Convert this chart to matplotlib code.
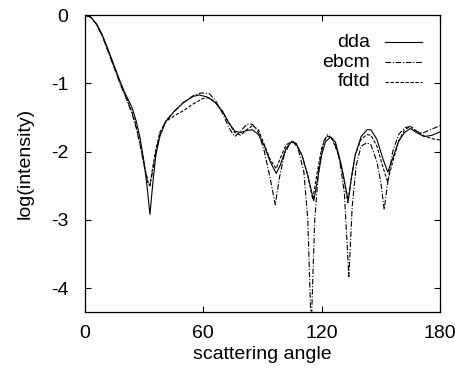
import numpy as np
import matplotlib
matplotlib.use("Agg")
import matplotlib.pyplot as plt
from matplotlib.lines import Line2D

plt.rcParams['font.family'] = ['Liberation Sans', 'DejaVu Sans']
plt.rcParams['axes.unicode_minus'] = False

# scattering angle (deg) and log(intensity)
ang_dda = [0, 3, 6, 9, 12, 15, 18, 20, 22, 24, 26, 28, 30, 31.5, 33, 34.5, 36, 38, 41, 45,
           50, 55, 58, 62, 66, 70, 73, 76, 79, 82, 85, 88, 91, 94, 97, 99, 102, 105, 107, 110,
           113, 116, 118, 120, 122, 124.5, 127, 130, 132, 133.5, 135, 137, 140, 143, 145, 148,
           151, 153.5, 156, 159, 162, 165, 168, 172, 176, 180]
dda = [0, -0.03, -0.13, -0.30, -0.52, -0.75, -0.98, -1.12, -1.24, -1.36, -1.55, -1.80, -2.15,
       -2.5, -2.92, -2.45, -2.05, -1.78, -1.56, -1.42, -1.28, -1.19, -1.17, -1.20, -1.28, -1.42,
       -1.58, -1.70, -1.72, -1.69, -1.68, -1.75, -1.92, -2.15, -2.32, -2.20, -1.95, -1.85, -1.88,
       -2.05, -2.35, -2.72, -2.40, -2.05, -1.85, -1.79, -1.86, -2.20, -2.50, -2.72, -2.40, -2.05,
       -1.78, -1.68, -1.68, -1.82, -2.10, -2.30, -2.10, -1.85, -1.72, -1.66, -1.72, -1.78, -1.76,
       -1.71]

ang_ebcm = [0, 3, 6, 9, 12, 15, 18, 20, 22, 24, 26, 28, 30, 32, 33, 34, 36, 38, 41, 45, 50,
            55, 59, 63, 66, 70, 73, 76, 79, 82, 85, 88, 91, 94, 96.5, 98.5, 101, 104, 106, 108,
            111, 113, 114.7, 116.5, 118.5, 121, 123, 126, 129, 131.5, 133.8, 135.5, 137.5, 140,
            143, 145, 148, 150, 151.7, 153.5, 156, 159, 162, 165, 168, 171, 175, 180]
ebcm = [0, -0.03, -0.14, -0.32, -0.55, -0.78, -1.02, -1.15, -1.30, -1.45, -1.65, -1.90, -2.20,
        -2.45, -2.50, -2.35, -2.00, -1.75, -1.55, -1.42, -1.28, -1.18, -1.14, -1.15, -1.24,
        -1.45, -1.65, -1.78, -1.70, -1.60, -1.60, -1.72, -2.00, -2.40, -2.78, -2.40, -2.05,
        -1.87, -1.87, -1.95, -2.30, -3.00, -4.60, -3.00, -2.25, -1.85, -1.75, -1.82, -2.10,
        -2.60, -3.83, -2.80, -2.20, -1.92, -1.87, -1.90, -2.15, -2.45, -2.85, -2.45, -2.00,
        -1.75, -1.65, -1.63, -1.70, -1.73, -1.68, -1.62]

ang_fdtd = [0, 3, 6, 9, 12, 15, 18, 20, 22, 24, 26, 28, 30, 32, 33, 34, 36, 38, 41, 45, 50,
            55, 60, 63, 66, 70, 73, 76, 79, 82, 85, 88, 91, 94, 97, 99, 102, 105, 107, 110,
            113, 115.5, 117.5, 120, 122.5, 125, 128, 131, 133.3, 135, 137, 140, 143, 145, 148,
            151, 153.4, 156, 159, 162, 165, 168, 172, 176, 180]
fdtd = [0, -0.03, -0.14, -0.31, -0.54, -0.77, -1.00, -1.14, -1.28, -1.42, -1.62, -1.88, -2.18,
        -2.45, -2.50, -2.30, -1.97, -1.72, -1.56, -1.48, -1.40, -1.30, -1.22, -1.21, -1.27,
        -1.42, -1.58, -1.72, -1.76, -1.68, -1.62, -1.68, -1.90, -2.12, -2.25, -2.10, -1.90,
        -1.85, -1.88, -2.05, -2.35, -2.70, -2.35, -1.95, -1.77, -1.80, -2.00, -2.35, -2.75,
        -2.40, -2.05, -1.82, -1.75, -1.76, -1.92, -2.22, -2.44, -2.15, -1.85, -1.68, -1.63,
        -1.70, -1.77, -1.81, -1.83]

xticks = [0, 60, 120, 180]
yticks = [0, -1, -2, -3, -4]

styles = {
    "dda": dict(ls="-"),
    "ebcm": dict(ls=(0, (5, 1.6, 1, 1.6))),
    "fdtd": dict(ls=(0, (3, 1.5))),
}
series = [("dda", ang_dda, dda), ("ebcm", ang_ebcm, ebcm), ("fdtd", ang_fdtd, fdtd)]

fig = plt.figure(figsize=(4.56, 3.68), dpi=100)
ax = fig.add_axes([0.186, 0.152, 0.779, 0.807])
for name, x, y in series:
    ax.plot(x, y, color="black", lw=0.8, **styles[name])

ax.set_xlim(0, 180)
ax.set_ylim(-4.35, 0)
ax.set_xticks(xticks)
ax.set_yticks(yticks)
ax.tick_params(direction="in", length=4, width=0.8, top=True, right=True, labelsize=14)
ax.tick_params(axis="x", pad=9)
ax.tick_params(axis="y", pad=12)
for s in ax.spines.values():
    s.set_linewidth(0.9)
ax.set_xlabel("scattering angle", fontsize=14, labelpad=3)
ax.set_ylabel("log(intensity)", fontsize=14, labelpad=12)

# gnuplot-style key: right-aligned labels, line sample to the right
for i, (name, _, _) in enumerate(series):
    yy = 0.909 - i * 0.067
    ax.text(0.803, yy, name, transform=ax.transAxes, ha="right", va="center", fontsize=14)
    ax.add_line(Line2D([0.845, 0.949], [yy, yy], transform=ax.transAxes,
                       color="black", lw=0.8, **styles[name]))

fig.savefig("out.png", dpi=100)
